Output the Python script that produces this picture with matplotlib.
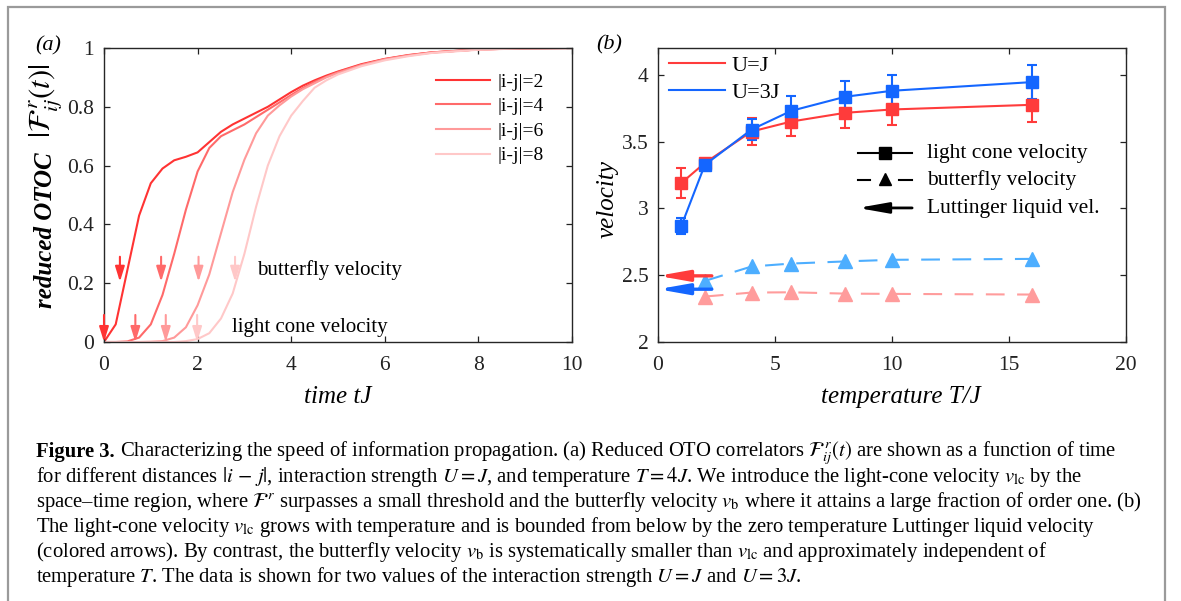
import numpy as np
import matplotlib
matplotlib.use('Agg')
import matplotlib.pyplot as plt
from matplotlib.patches import Rectangle
from matplotlib.lines import Line2D

plt.rcParams['font.family'] = ['Liberation Serif', 'STIXGeneral', 'DejaVu Serif']
plt.rcParams['mathtext.fontset'] = 'stix'

# ---------------- panel (a) data ----------------
time_tJ = [0, 0.25, 0.5, 0.75, 1.0, 1.25, 1.5, 1.75, 2.0, 2.25, 2.5, 2.75, 3.0, 3.25,
           3.5, 3.75, 4.0, 4.25, 4.5, 4.75, 5.0, 5.5, 6.0, 6.5, 7.0, 8.0, 9.0, 10.0]
otoc_d2 = [0.0, 0.06, 0.245, 0.43, 0.54, 0.59, 0.618, 0.63, 0.645, 0.68, 0.715, 0.74, 0.76, 0.78,
           0.80, 0.825, 0.85, 0.872, 0.89, 0.906, 0.92, 0.945, 0.963, 0.976, 0.985, 0.995, 0.999, 1.0]
otoc_d4 = [0.0, 0.0, 0.002, 0.015, 0.06, 0.16, 0.30, 0.45, 0.58, 0.66, 0.70, 0.72, 0.74, 0.765,
           0.79, 0.815, 0.84, 0.864, 0.885, 0.902, 0.918, 0.943, 0.962, 0.975, 0.985, 0.995, 0.999, 1.0]
otoc_d6 = [0.0, 0.0, 0.0, 0.0, 0.001, 0.003, 0.015, 0.05, 0.125, 0.23, 0.37, 0.51, 0.62, 0.71,
           0.77, 0.805, 0.835, 0.86, 0.88, 0.90, 0.915, 0.941, 0.961, 0.974, 0.984, 0.995, 0.999, 1.0]
otoc_d8 = [0.0, 0.0, 0.0, 0.0, 0.0, 0.0, 0.0, 0.003, 0.01, 0.03, 0.08, 0.165, 0.30, 0.46,
           0.60, 0.70, 0.77, 0.82, 0.865, 0.89, 0.91, 0.938, 0.958, 0.972, 0.983, 0.994, 0.999, 1.0]
dist_labels = ['|i-j|=2', '|i-j|=4', '|i-j|=6', '|i-j|=8']
dist_colors = ['#FF3333', '#FF6A6A', '#FF9A9A', '#FFC8C8']
butterfly_arrow_t = [0.34, 1.22, 2.02, 2.80]
lightcone_arrow_t = [0.0, 0.67, 1.32, 1.99]

a_xticks = [0, 2, 4, 6, 8, 10]
a_yticks = [0, 0.2, 0.4, 0.6, 0.8, 1.0]
a_yticklabels = ['0', '0.2', '0.4', '0.6', '0.8', '1']

# ---------------- panel (b) data ----------------
T_lc = [1, 2, 4, 5.7, 8, 10, 16]
v_lc_UJ = [3.19, 3.34, 3.575, 3.65, 3.715, 3.74, 3.775]
err_lc_UJ = [0.115, 0.02, 0.10, 0.11, 0.11, 0.115, 0.125]
v_lc_U3J = [2.87, 3.325, 3.59, 3.73, 3.835, 3.88, 3.945]
err_lc_U3J = [0.06, 0.02, 0.08, 0.11, 0.115, 0.115, 0.125]
T_b = [2, 4, 5.7, 8, 10, 16]
v_b_UJ = [2.34, 2.37, 2.372, 2.362, 2.36, 2.355]
v_b_U3J = [2.457, 2.565, 2.587, 2.603, 2.615, 2.622]
v_LL = [2.495, 2.395]          # Luttinger liquid velocity, U=J and U=3J
LL_arrow_start_T = 2.3
b_series_labels = ['U=J', 'U=3J']
b_colors = ['#FF3B3B', '#1466FF']
b_light_colors = ['#FF9C9C', '#4DAEFF']
style_labels = ['light cone velocity', 'butterfly velocity', 'Luttinger liquid vel.']

b_xticks = [0, 5, 10, 15, 20]
b_yticks = [2, 2.5, 3, 3.5, 4]
b_yticklabels = ['2', '2.5', '3', '3.5', '4']

caption_lines = [
    r"Characterizing the speed of information propagation. (a) Reduced OTO correlators $\mathcal{F}^{\,r}_{ij}(t)$ are shown as a function of time",
    r"for different distances $|i\,-\,j|$, interaction strength $U=J$, and temperature $T=4J$. We introduce the light-cone velocity $v_{\rm lc}$ by the",
    r"space–time region, where $\mathcal{F}^{\,r}$ surpasses a small threshold and the butterfly velocity $v_{\rm b}$ where it attains a large fraction of order one. (b)",
    r"The light-cone velocity $v_{\rm lc}$ grows with temperature and is bounded from below by the zero temperature Luttinger liquid velocity",
    r"(colored arrows). By contrast, the butterfly velocity $v_{\rm b}$ is systematically smaller than $v_{\rm lc}$ and approximately independent of",
    r"temperature $T$. The data is shown for two values of the interaction strength $U=J$ and $U=3J$.",
]

# ---------------- figure ----------------
W, H = 1181, 601
fig = plt.figure(figsize=(W / 100, H / 100), dpi=100)
fig.patch.set_facecolor('white')

def px_axes(left, top, right, bottom):
    return fig.add_axes([left / W, 1 - bottom / H, (right - left) / W, (bottom - top) / H])

axA = px_axes(104, 48, 572, 342)
axB = px_axes(658, 48, 1126, 342)

for ax in (axA, axB):
    ax.tick_params(direction='in', top=True, right=True, length=4.5, width=0.9,
                   labelsize=15.5, colors='#222222')
    ax.tick_params(axis='y', pad=7)
    ax.tick_params(axis='x', pad=10)
    for s in ax.spines.values():
        s.set_color('#262626')
        s.set_linewidth(1.0)

# ---- panel (a)
curves = [otoc_d2, otoc_d4, otoc_d6, otoc_d8]
lines = []
for vals, col, lab in zip(curves, dist_colors, dist_labels):
    ln, = axA.plot(time_tJ, vals, color=col, lw=1.5, label=lab)
    lines.append(ln)
axA.set_xlim(0, 10)
axA.set_ylim(0, 1)
axA.set_xticks(a_xticks)
axA.set_yticks(a_yticks)
axA.set_yticklabels(a_yticklabels)

arrow_kw = dict(arrowstyle='-|>,head_length=0.45,head_width=0.14', lw=1.5,
                shrinkA=0, shrinkB=0, mutation_scale=20)
for t, col in zip(butterfly_arrow_t, dist_colors):
    axA.annotate('', xy=(t, 0.205), xytext=(t, 0.29),
                 arrowprops=dict(color=col, **arrow_kw))
for t, col in zip(lightcone_arrow_t, dist_colors):
    axA.annotate('', xy=(t, 0.0), xytext=(t, 0.092),
                 arrowprops=dict(color=col, **arrow_kw), annotation_clip=False)

axA.text(3.26, 0.228, 'butterfly velocity', fontsize=15, va='baseline')
axA.text(2.73, 0.035, 'light cone velocity', fontsize=15, va='baseline')

axA.legend(handles=lines, loc='upper left', bbox_to_anchor=(0.709, 0.915),
           frameon=False, fontsize=14, handlelength=2.8, handletextpad=0.35,
           labelspacing=0.36, borderpad=0, borderaxespad=0)

axA.set_xlabel('time tJ', fontsize=18, style='italic')
axA.xaxis.set_label_coords(0.5, -0.15)
axA.set_ylabel('reduced OTOC', fontsize=18, style='italic', weight='bold')
axA.yaxis.set_label_coords(-0.1, 0.381)
fig.text(46 / W, 1 - 101 / H, r'$|\mathcal{F}^{\,r}_{ij}(t)|$', fontsize=22,
         rotation=90, ha='center', va='center')

# ---- panel (b)
for vals, errs, col, lab in zip([v_lc_UJ, v_lc_U3J], [err_lc_UJ, err_lc_U3J], b_colors, b_series_labels):
    axB.errorbar(T_lc, vals, yerr=errs, color=col, lw=1.5, marker='s', markersize=8.5,
                 capsize=3.5, elinewidth=1.5, capthick=1.5, label=lab)
for vals, col in zip([v_b_UJ, v_b_U3J], b_light_colors):
    axB.plot(T_b, vals, color=col, lw=1.5, ls=(0, (9, 6)), marker='^', markersize=10.5)

ll_kw = dict(arrowstyle='-|>,head_length=0.9,head_width=0.16', lw=2.4,
             shrinkA=0, shrinkB=0, mutation_scale=20)
for v, col in zip(v_LL, b_colors):
    axB.annotate('', xy=(0, v), xytext=(LL_arrow_start_T, v),
                 arrowprops=dict(color=col, **ll_kw), annotation_clip=False)

axB.set_xlim(0, 20)
axB.set_ylim(2, 4.2)
axB.set_xticks(b_xticks)
axB.set_yticks(b_yticks)
axB.set_yticklabels(b_yticklabels)

h_UJ = Line2D([], [], color=b_colors[0], lw=1.5)
h_U3J = Line2D([], [], color=b_colors[1], lw=1.5)
axB.legend(handles=[h_UJ, h_U3J], labels=b_series_labels, loc='upper left',
           bbox_to_anchor=(0.0235, 0.975), frameon=False, fontsize=16,
           handlelength=2.5, handletextpad=0.3, labelspacing=0.3,
           borderpad=0, borderaxespad=0)

# second (style) legend, drawn by hand in axes coordinates
tA = axB.transAxes
hx0, hx1, hxm = 0.427, 0.543, 0.485
axB.plot([hx0, hx1], [0.643, 0.643], color='k', lw=1.5, transform=tA)
axB.plot([hxm], [0.643], color='k', marker='s', markersize=8, transform=tA)
axB.plot([hx0, hx0 + 0.027], [0.551, 0.551], color='k', lw=1.5, transform=tA)
axB.plot([hx1 - 0.027, hx1], [0.551, 0.551], color='k', lw=1.5, transform=tA)
axB.plot([hxm], [0.553], color='k', marker='^', markersize=9, transform=tA)
axB.annotate('', xy=(hx0, 0.456), xytext=(hx1, 0.456), xycoords=tA, textcoords=tA,
             arrowprops=dict(color='k', arrowstyle='-|>,head_length=0.9,head_width=0.16',
                             lw=2.0, shrinkA=0, shrinkB=0, mutation_scale=20))
for txt, yb in zip(style_labels, [0.625, 0.534, 0.438]):
    axB.text(0.575, yb, txt, fontsize=15.5, va='baseline', transform=tA)

axB.set_xlabel('temperature T/J', fontsize=18, style='italic')
axB.xaxis.set_label_coords(0.52, -0.15)
axB.set_ylabel('velocity', fontsize=18, style='italic')
axB.yaxis.set_label_coords(-0.084, 0.486)

# panel letters
fig.text(48 / W, 1 - 46 / H, '(a)', fontsize=16, style='italic', ha='center', va='center')
fig.text(609 / W, 1 - 45 / H, '(b)', fontsize=16, style='italic', ha='center', va='center')

# outer frame
fig.add_artist(Rectangle((8 / W, -0.02), (1165 - 8) / W, 1.02 - 7 / H,
                         transform=fig.transFigure, fill=False, ec='#9A9A9A', lw=1.6))

# caption
renderer = fig.canvas.get_renderer()
x0 = 36
baselines = [457, 482, 507, 532, 557, 582]

def draw_caption(fs):
    arts = []
    b = fig.text(x0 / W, 1 - baselines[0] / H, 'Figure 3.', fontsize=fs, weight='bold', va='baseline')
    arts.append(b)
    bb = b.get_window_extent(renderer)
    gap = 0.28 * fs * 100 / 72
    for i, line in enumerate(caption_lines):
        xs = (bb.x1 + gap) if i == 0 else x0
        arts.append(fig.text(xs / W, 1 - baselines[i] / H, line, fontsize=fs, va='baseline'))
    return arts

fs = 13.5
arts = draw_caption(fs)
right = arts[1].get_window_extent(renderer).x1
target = 1117
fs2 = fs * (target - x0) / (right - x0)
for a in arts:
    a.remove()
draw_caption(fs2)

fig.savefig('out.png', dpi=100)
